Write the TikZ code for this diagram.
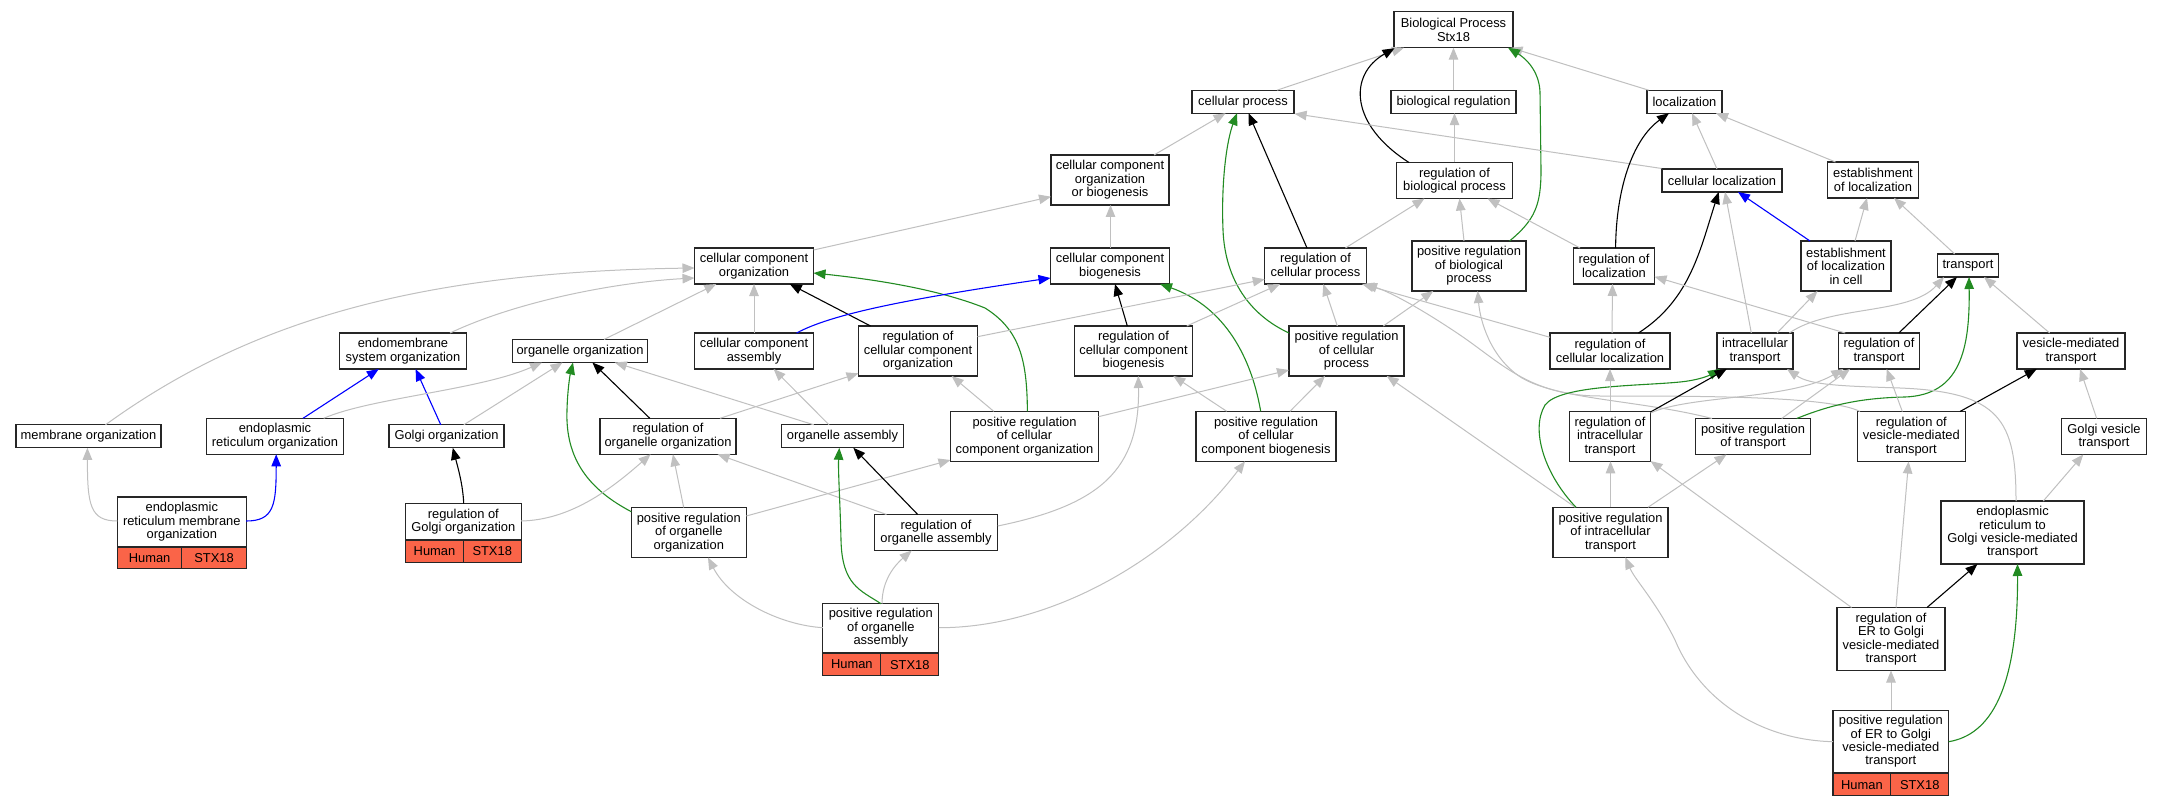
\documentclass[tikz,border=0pt]{standalone}
\usepackage{fontspec}
\setmainfont{Liberation Sans}
\usetikzlibrary{arrows.meta,calc}
\definecolor{gedge}{RGB}{192,192,192}
\definecolor{gogreen}{RGB}{34,139,34}
\definecolor{goblue}{RGB}{0,0,255}
\definecolor{gored}{RGB}{250,100,72}
\newcommand{\gofont}{\fontsize{12.9}{13.4}\selectfont}
\begin{document}
\begin{tikzpicture}[x=1pt,y=-1pt,
  box/.style={draw=black!85,line width=1.1pt,fill=white,inner sep=0pt,align=center,font=\gofont},
  redc/.style={draw=black!85,line width=1.1pt,fill=gored,inner sep=0pt,font=\gofont},
  eg/.style={draw=gedge,line width=1pt,-{Triangle[length=12pt,width=9.5pt]}},
  ek/.style={draw=black,line width=1.1pt,-{Triangle[length=12pt,width=9.5pt]}},
  egr/.style={draw=gogreen,line width=1.1pt,-{Triangle[length=12pt,width=9.5pt]}},
  eb/.style={draw=goblue,line width=1.1pt,-{Triangle[length=12pt,width=9.5pt]}}]
\fill[white] (0,0) rectangle (2163,805);
\useasboundingbox (0,0) rectangle (2163,805);
% nodes
\node[box,minimum width=119pt,minimum height=36pt] (BP) at (1453.5,29.7) {Biological Process\\Stx18};
\node[box,minimum width=102pt,minimum height=23pt] (cp) at (1243,101.7) {cellular process};
\node[box,minimum width=125pt,minimum height=23pt] (br) at (1453.5,101.7) {biological regulation};
\node[box,minimum width=75pt,minimum height=23pt] (loc) at (1684.5,101.7) {localization};
\node[box,minimum width=118pt,minimum height=50pt] (ccob) at (1110,180) {cellular component\\organization\\or biogenesis};
\node[box,minimum width=116pt,minimum height=36pt] (rbp) at (1454.5,180.5) {regulation of\\biological process};
\node[box,minimum width=120pt,minimum height=23pt] (cl) at (1722,180.5) {cellular localization};
\node[box,minimum width=91pt,minimum height=36pt] (eol) at (1873,180) {establishment\\of localization};
\node[box,minimum width=119pt,minimum height=36pt] (cco) at (754,266) {cellular component\\organization};
\node[box,minimum width=119pt,minimum height=36pt] (ccb) at (1110,266) {cellular component\\biogenesis};
\node[box,minimum width=101.5pt,minimum height=36pt] (rcp) at (1315.5,266) {regulation of\\cellular process};
\node[box,minimum width=114pt,minimum height=50pt] (prbp) at (1469,266) {positive regulation\\of biological\\process};
\node[box,minimum width=81pt,minimum height=36pt] (rl) at (1614,266) {regulation of\\localization};
\node[box,minimum width=90pt,minimum height=50pt] (elc) at (1846,266) {establishment\\of localization\\in cell};
\node[box,minimum width=61pt,minimum height=23pt] (tr) at (1968,265.5) {transport};
\node[box,minimum width=126.5pt,minimum height=36pt] (eso) at (403,351) {endomembrane\\system organization};
\node[box,minimum width=135.5pt,minimum height=23pt] (oo) at (580,351) {organelle organization};
\node[box,minimum width=119pt,minimum height=36pt] (cca) at (754,351) {cellular component\\assembly};
\node[box,minimum width=119pt,minimum height=50pt] (rcco) at (918,351) {regulation of\\cellular component\\organization};
\node[box,minimum width=118pt,minimum height=50pt] (rccb) at (1133.5,351) {regulation of\\cellular component\\biogenesis};
\node[box,minimum width=115pt,minimum height=50pt] (prcp) at (1346.5,351) {positive regulation\\of cellular\\process};
\node[box,minimum width=120pt,minimum height=36pt] (rcl) at (1610,351) {regulation of\\cellular localization};
\node[box,minimum width=76pt,minimum height=36pt] (it) at (1755,351) {intracellular\\transport};
\node[box,minimum width=81pt,minimum height=36pt] (rt) at (1879,351) {regulation of\\transport};
\node[box,minimum width=108pt,minimum height=36pt] (vmt) at (2071,351) {vesicle-mediated\\transport};
\node[box,minimum width=145pt,minimum height=23pt] (mo) at (88.5,436.3) {membrane organization};
\node[box,minimum width=137pt,minimum height=36pt] (ero) at (275,436.3) {endoplasmic\\reticulum organization};
\node[box,minimum width=115pt,minimum height=23pt] (go) at (446.5,436.3) {Golgi organization};
\node[box,minimum width=136pt,minimum height=36pt] (roo) at (668,436.3) {regulation of\\organelle organization};
\node[box,minimum width=122pt,minimum height=23pt] (oa) at (842.5,436.3) {organelle assembly};
\node[box,minimum width=148pt,minimum height=50pt] (prcco) at (1024.5,436.3) {positive regulation\\of cellular\\component organization};
\node[box,minimum width=140pt,minimum height=50pt] (prccb) at (1266,436.3) {positive regulation\\of cellular\\component biogenesis};
\node[box,minimum width=81pt,minimum height=50pt] (rit) at (1610,436.3) {regulation of\\intracellular\\transport};
\node[box,minimum width=115pt,minimum height=36pt] (prt) at (1753,436.5) {positive regulation\\of transport};
\node[box,minimum width=108pt,minimum height=50pt] (rvmt) at (1911.3,436.5) {regulation of\\vesicle-mediated\\transport};
\node[box,minimum width=85.5pt,minimum height=36pt] (gvt) at (2104,436.5) {Golgi vesicle\\transport};
\node[box,minimum width=128.8pt,minimum height=49.7pt] (ermo) at (181.8,521.85) {endoplasmic\\reticulum membrane\\organization};
\node[redc,minimum width=64.4pt,minimum height=21pt,anchor=north west] (ermoh) at (ermo.south west) {Human};
\node[redc,minimum width=64.4pt,minimum height=21pt,anchor=north east] (ermos) at (ermo.south east) {STX18};
\node[box,minimum width=115.5pt,minimum height=35.6pt] (rgo) at (463.35,521.5) {regulation of\\Golgi organization};
\node[redc,minimum width=57.75pt,minimum height=21.7pt,anchor=north west] (rgoh) at (rgo.south west) {Human};
\node[redc,minimum width=57.75pt,minimum height=21.7pt,anchor=north east] (rgos) at (rgo.south east) {STX18};
\node[box,minimum width=115pt,minimum height=50pt] (proo) at (688.8,532.5) {positive regulation\\of organelle\\organization};
\node[box,minimum width=123.5pt,minimum height=36pt] (roa) at (936,532.5) {regulation of\\organelle assembly};
\node[box,minimum width=115pt,minimum height=50pt] (prit) at (1610.5,532.3) {positive regulation\\of intracellular\\transport};
\node[box,minimum width=143pt,minimum height=63pt] (erg) at (2012.5,532.5) {endoplasmic\\reticulum to\\Golgi vesicle-mediated\\transport};
\node[box,minimum width=116pt,minimum height=48.6pt] (proa) at (880.8,628) {positive regulation\\of organelle\\assembly};
\node[redc,minimum width=58pt,minimum height=22.4pt,anchor=north west] (proah) at (proa.south west) {Human};
\node[redc,minimum width=58pt,minimum height=22.4pt,anchor=north east] (proas) at (proa.south east) {STX18};
\node[box,minimum width=108pt,minimum height=63pt] (rerg) at (1891,639) {regulation of\\ER to Golgi\\vesicle-mediated\\transport};
\node[box,minimum width=115.6pt,minimum height=62.4pt] (prerg) at (1890.8,741.5) {positive regulation\\of ER to Golgi\\vesicle-mediated\\transport};
\node[redc,minimum width=57.8pt,minimum height=22pt,anchor=north west] (prergh) at (prerg.south west) {Human};
\node[redc,minimum width=57.8pt,minimum height=22pt,anchor=north east] (prergs) at (prerg.south east) {STX18};
% edges upper
\draw[eg] ($(cp)+(34,-11.5)$) -- ($(BP)+(-49.5,18)$);
\draw[eg] ($(br)+(0,-11.5)$) -- ($(BP)+(0,18)$);
\draw[eg] ($(loc)+(-35.8,-11.5)$) -- ($(BP)+(57,18)$);
\draw[ek] ($(rbp)+(-45.5,-18)$) .. controls (1350,125) and (1348,75) .. ($(BP)+(-59,18.5)$);
\draw[egr] ($(prbp)+(40.5,-25)$) .. controls (1535,220) and (1541,205) .. (1541,170) -- (1540,92) .. controls (1539,70) and (1525,58) .. ($(BP)+(54.5,18)$);
\draw[eg] ($(rbp)+(0,-18)$) -- ($(br)+(1,11.5)$);
\draw[eg] ($(ccob)+(44,-25)$) -- ($(cp)+(-17.5,11.5)$);
\draw[ek] ($(rcp)+(-8.5,-18)$) -- ($(cp)+(5.5,11.5)$);
\draw[egr] ($(prcp)+(-57.5,-18)$) .. controls (1250,315) and (1225,280) .. (1223,230) .. controls (1221,180) and (1227,140) .. ($(cp)+(-6,11.5)$);
\draw[eg] (cl.north west) -- (cp.south east);
\draw[eg] ($(cl)+(-5,-11.5)$) -- ($(loc)+(7.5,11.5)$);
\draw[ek] ($(rl)+(1.6,-18)$) .. controls (1616,190) and (1632,140) .. ($(loc)+(-15.5,11.5)$);
\draw[eg] ($(eol)+(-37.5,-18)$) -- ($(loc)+(31.5,11.5)$);
\draw[eb] ($(elc)+(-36,-25)$) -- ($(cl)+(16,11.5)$);
\draw[eg] ($(elc)+(9,-25)$) -- ($(eol)+(-6,18)$);
\draw[eg] ($(tr)+(-13.3,-11.5)$) -- ($(eol)+(21,18)$);
\draw[eg] ($(cco)+(59.5,-16)$) -- ($(ccob)+(-59,16.7)$);
\draw[eg] ($(ccb)+(0.5,-18)$) -- ($(ccob)+(0.5,25)$);
\draw[eg] ($(rcp)+(29.9,-18)$) -- ($(rbp)+(-30,18)$);
\draw[eg] ($(prbp)+(-5,-25)$) -- ($(rbp)+(5,18)$);
\draw[eg] ($(rl)+(-34,-18)$) -- ($(rbp)+(33,18)$);
\draw[eg] ($(eso)+(47,-18)$) .. controls (520,300) and (620,282) .. ($(cco)+(-59.5,12)$);
\draw[eg] ($(mo)+(17,-11.5)$) .. controls (250,320) and (420,272) .. ($(cco)+(-59.5,2)$);
\draw[eg] ($(oo)+(24,-11.5)$) -- ($(cco)+(-37.7,18)$);
\draw[eg] ($(cca)+(0,-18)$) -- ($(cco)+(0,18)$);
\draw[ek] ($(rcco)+(-47.5,-25)$) -- ($(cco)+(35.7,18)$);
\draw[egr] ($(prcco)+(2.9,-25)$) .. controls (1027,360) and (1020,330) .. (985,308) .. controls (940,290) and (880,280) .. ($(cco)+(59.5,7)$);
\draw[eb] ($(cca)+(42.6,-18)$) .. controls (830,315) and (900,300) .. ($(ccb)+(-59.5,12)$);
\draw[ek] ($(rccb)+(-6.2,-25)$) -- ($(ccb)+(5,18)$);
\draw[egr] ($(prccb)+(-5.3,-25)$) .. controls (1250,350) and (1220,305) .. ($(ccb)+(50,18)$);
\draw[eg] ($(rcco)+(59.5,-14.3)$) -- ($(rcp)+(-50.75,13.3)$);
\draw[eg] ($(rccb)+(53.2,-25)$) -- ($(rcp)+(-35.5,18)$);
\draw[eg] ($(prcp)+(-9.2,-25)$) -- ($(rcp)+(7.8,18)$);
\draw[eg] ($(prcp)+(36.8,-25)$) -- ($(prbp)+(-35.7,25)$);
\draw[eg] ($(rcl)+(-60,-13.7)$) -- ($(rcp)+(46.5,18)$);
\draw[eg] ($(rvmt)+(-51.3,-25)$) .. controls (1830,396) and (1700,396) .. (1600,396) .. controls (1530,396) and (1500,362) .. (1460,335) .. controls (1420,308) and (1390,292) .. ($(rcp)+(49.5,18)$);
\draw[eg] ($(prt)+(-41,-18)$) .. controls (1640,400) and (1560,400) .. (1522,378) .. controls (1490,358) and (1480,320) .. ($(prbp)+(8.7,25)$);
\draw[eg] ($(prcco)+(74,-19.6)$) -- ($(prcp)+(-57.5,19)$);
\draw[eg] ($(prccb)+(24,-25)$) -- ($(prcp)+(-21.5,25)$);
\draw[eg] ($(prccb)+(-39.3,-25)$) -- ($(rccb)+(39.8,25)$);
\draw[eg] ($(roa)+(61.75,-6.5)$) .. controls (1100,505) and (1140,470) .. ($(rccb)+(4.8,25)$);
\draw[eg] ($(prit)+(-35.2,-25)$) -- ($(prcp)+(40.2,25)$);
\draw[egr] ($(prit)+(-34.5,-25)$) .. controls (1545,475) and (1530,430) .. (1545,405) .. controls (1560,385) and (1640,386) .. (1680,382) .. controls (1700,380) and (1710,375) .. ($(it)+(-35,18)$);
\draw[ek] ($(rit)+(40.5,-24.3)$) -- ($(it)+(-28.3,18)$);
\draw[eg] ($(rit)+(0,-25)$) -- ($(rcl)+(0,18)$);
\draw[eg] ($(rit)+(40.5,-23.3)$) .. controls (1690,395) and (1790,400) .. ($(rt)+(-35.7,18)$);
\draw[eg] ($(prit)+(0,-25)$) -- ($(rit)+(0.5,25)$);
\draw[eg] ($(prit)+(37.5,-25)$) -- ($(prt)+(-26.5,18)$);
\draw[eg] ($(rerg)+(-39.5,-31.5)$) -- ($(rit)+(40.5,24.7)$);
\draw[eg] ($(rcl)+(2,-18)$) -- ($(rl)+(-1.5,18)$);
\draw[ek] ($(rcl)+(28.4,-18)$) .. controls (1690,300) and (1700,250) .. ($(cl)+(-3.3,11.5)$);
\draw[eg] ($(it)+(-3.7,-18)$) -- ($(cl)+(3,11.5)$);
\draw[eg] ($(it)+(22,-18)$) -- ($(elc)+(-28.5,25)$);
\draw[eg] ($(it)+(34.3,-18)$) .. controls (1830,305) and (1910,315) .. ($(tr)+(-24,11.5)$);
\draw[eg] ($(rt)+(-33.8,-18)$) -- ($(rl)+(40.5,10.7)$);
\draw[ek] ($(rt)+(19.8,-18)$) -- ($(tr)+(-11,11.5)$);
\draw[eg] ($(vmt)+(-21.4,-18)$) -- ($(tr)+(16,11.5)$);
\draw[egr] ($(prt)+(43.7,-18)$) .. controls (1830,405) and (1860,398) .. (1905,397) .. controls (1960,395) and (1970,350) .. ($(tr)+(1,11.5)$);
\draw[eg] ($(prt)+(28.7,-18)$) -- ($(rt)+(-29,18)$);
\draw[eg] ($(rvmt)+(-9,-25)$) -- ($(rt)+(7.7,18)$);
\draw[ek] ($(rvmt)+(48.7,-25)$) -- ($(vmt)+(-34.3,18)$);
\draw[eg] ($(gvt)+(-7.3,-18)$) -- ($(vmt)+(9,18)$);
\draw[eg] ($(erg)+(30.8,-31.5)$) -- ($(gvt)+(-20.7,18)$);
\draw[eg] ($(erg)+(3.5,-31.5)$) .. controls (2016,420) and (2000,392) .. (1900,388) .. controls (1840,386) and (1810,385) .. ($(it)+(32,18)$);
\draw[eg] ($(rerg)+(5,-31.5)$) -- ($(rvmt)+(-2.7,25)$);
\draw[ek] ($(rerg)+(36,-31.5)$) -- ($(erg)+(-35,31.5)$);
\draw[eg] ($(prerg)+(0.2,-31.2)$) -- ($(rerg)+(0,31.5)$);
\draw[egr] ($(prerg)+(57.8,0.2)$) .. controls (1990,735) and (2018,690) .. ($(erg)+(5,31.5)$);
\draw[eg] ($(prerg)+(-57.8,0.2)$) .. controls (1760,740) and (1700,700) .. (1675,640) .. controls (1655,600) and (1635,580) .. ($(prit)+(14.8,25)$);
% edges left
\draw[eb] ($(ero)+(28,-18)$) -- ($(eso)+(-24.2,18)$);
\draw[eb] ($(go)+(-5.7,-11.5)$) -- ($(eso)+(12.6,18)$);
\draw[eg] ($(ero)+(48.7,-18)$) .. controls (370,398) and (480,390) .. ($(oo)+(-38,11.5)$);
\draw[eg] ($(go)+(17.3,-11.5)$) -- ($(oo)+(-17.5,11.5)$);
\draw[ek] ($(roo)+(-18.2,-18)$) -- ($(oo)+(12.4,11.5)$);
\draw[eg] ($(oa)+(-28.7,-11.5)$) -- ($(oo)+(34.8,11.5)$);
\draw[eg] ($(oa)+(-13.5,-11.5)$) -- ($(cca)+(19.6,18)$);
\draw[eg] ($(roo)+(52,-18)$) -- ($(rcco)+(-59.5,22.3)$);
\draw[eg] ($(prcco)+(-30.8,-25)$) -- ($(rcco)+(33.6,25)$);
\draw[egr] ($(proo)+(-57.5,-20.8)$) .. controls (590,490) and (565,460) .. (567,410) .. controls (567.5,390) and (570,375) .. ($(oo)+(-7,11.5)$);
\draw[eg] ($(proo)+(-5.1,-25)$) -- ($(roo)+(4.9,18)$);
\draw[eg] ($(proo)+(57.5,-16.5)$) -- ($(prcco)+(-74,23.7)$);
\draw[ek] ($(rgo)+(0.35,-17.8)$) .. controls (463,485) and (458,468) .. ($(go)+(6.3,11.5)$);
\draw[eg] ($(rgo)+(57.75,-0.5)$) .. controls (570,520) and (610,490) .. ($(roo)+(-17.4,18)$);
\draw[eg] ($(ermo)+(-64.4,-0.85)$) .. controls (90,521) and (87.4,505) .. ($(mo)+(-1.1,11.5)$);
\draw[eb] ($(ermo)+(64.4,-0.85)$) .. controls (274,521) and (276.2,505) .. ($(ero)+(1.2,18)$);
\draw[ek] ($(roa)+(-18.3,-18)$) -- ($(oa)+(10.8,11.5)$);
\draw[eg] ($(roa)+(-49.5,-18)$) -- ($(roo)+(49.5,18)$);
\draw[egr] ($(proa)+(0.2,-24.3)$) .. controls (860,590) and (842,585) .. (841,540) .. controls (840,500) and (838,470) .. ($(oa)+(-3.2,11.5)$);
\draw[eg] ($(proa)+(1.2,-24.3)$) .. controls (882,580) and (895,565) .. ($(roa)+(-24.3,18)$);
\draw[eg] ($(proa)+(-58,-0.3)$) .. controls (780,625) and (730,600) .. ($(proo)+(19.2,25)$);
\draw[eg] ($(proa)+(58,-0.3)$) .. controls (1050,628) and (1170,560) .. ($(prccb)+(-21,25)$);
\end{tikzpicture}
\end{document}
